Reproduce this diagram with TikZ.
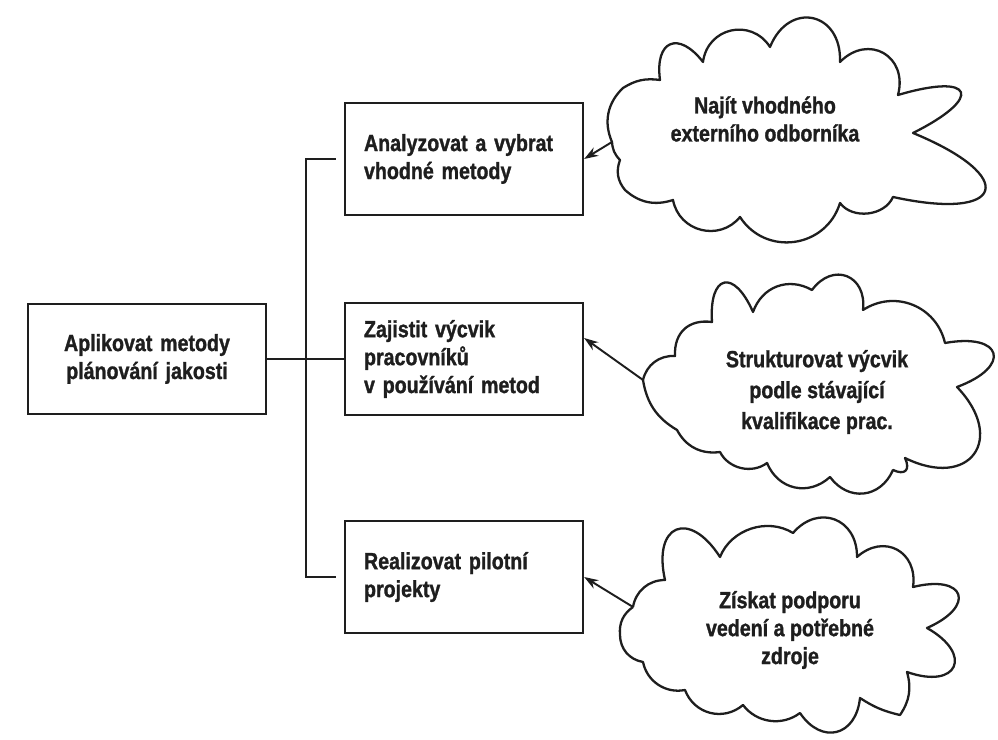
\documentclass[tikz,border=0pt]{standalone}
\usepackage{fontspec}
\setmainfont{Liberation Sans}[FakeStretch=0.84,BoldFeatures={FakeBold=1.2}]
\usepackage{xcolor}
\usetikzlibrary{arrows.meta}
\definecolor{ink}{HTML}{1E1E1E}
\hyphenpenalty=10000

\begin{document}
\begin{tikzpicture}[x=0.02cm,y=0.02cm,
  box/.style={draw=ink,line width=1.3pt,minimum width=4.76cm,minimum height=2.24cm,
    inner xsep=0.38cm,text width=4.0cm,align=left,text=ink,
    font=\bfseries\fontsize{13.3}{15.9}\selectfont},
  cloudtext/.style={align=center,text=ink,font=\bfseries\fontsize{13.3}{15.9}\selectfont},
  cloudline/.style={draw=ink,line width=1.3pt,line join=round},
  branch/.style={draw=ink,line width=1.1pt},
  pointer/.style={draw=ink,line width=1.1pt,-{Stealth[length=8pt,width=5.5pt]}}]
  \useasboundingbox[fill=white] (0,0) rectangle (998,740);

  \node[box,align=center,minimum height=2.2cm] (plan) at (147,381) {Aplikovat metody\\plánování jakosti};
  \node[box] (analyze) at (464,581) {Analyzovat a vybrat\\vhodné metody};
  \node[box] (train) at (464,381) {Zajistit výcvik\\pracovníků\\v používání metod};
  \node[box] (pilot) at (464,163) {Realizovat pilotní\\projekty};

  \draw[branch] (plan.east) -- (train.west);
  \draw[branch] ([xshift=-0.16cm]analyze.west) -- ([xshift=-0.76cm]analyze.west) |- ([xshift=-0.16cm]pilot.west);

  % clouds
  \coordinate (findtip) at (612,598);
  \coordinate (structtip) at (643,360);
  \coordinate (supporttip) at (633,133);

  \draw[cloudline] (findtip)
    \foreach \x/\y/\b/\l in {623/652/35/1, 660/660/20/1, 703/678/75/2.2, 770/693/70/1.3,
      840/678/80/1.8, 898/645/75/1.55, 913/607/85/5, 893/543/85/4.4, 840/537/60/1,
      740/523/65/1.2, 673/540/65/1.2, 625/550/30/1, 620/580/30/1, 612/598/20/1}
    { to[bend left=\b,looseness=\l] (\x,\y) };
  \draw[cloudline] (structtip)
    \foreach \x/\y/\b/\l in {675/384/40/1, 712/418/50/1.2, 753/428/80/2.9, 812/450/50/1.1,
      863/430/75/1.65, 945/397/55/1.1, 957/353/85/3.3, 905/282/80/2.1, 893/270/70/2,
      830/263/60/1.25, 767/277/55/1.15, 720/288/50/1, 677/310/35/1, 643/360/25/1}
    { to[bend left=\b,looseness=\l] (\x,\y) };
  \draw[cloudline] (supporttip)
    \foreach \x/\y/\b/\l in {665/160/40/1, 720/183/80/2.45, 793/207/50/1, 857/183/70/1.45,
      913/153/70/1.45, 927/112/85/3.2, 907/68/85/2.85, 900/25/25/1, 860/42/10/1,
      800/27/70/1.6, 743/35/45/1, 685/50/55/1.1, 643/78/45/1, 620/105/40/1, 633/133/30/1}
    { to[bend left=\b,looseness=\l] (\x,\y) };

  \node[cloudtext] (find) at (765,621) {Najít vhodného\\externího odborníka};
  \node[cloudtext,font=\bfseries\fontsize{13.3}{17.6}\selectfont] (struct) at (817,348) {Strukturovat výcvik\\podle stávající\\kvalifikace prac.};
  \node[cloudtext] (support) at (790,110) {Získat podporu\\vedení a potřebné\\zdroje};

  \draw[pointer] (findtip) -- (analyze.east);
  \draw[pointer] (structtip) -- ([yshift=0.42cm]train.east);
  \draw[pointer] (supporttip) -- (pilot.east);
\end{tikzpicture}
\end{document}
